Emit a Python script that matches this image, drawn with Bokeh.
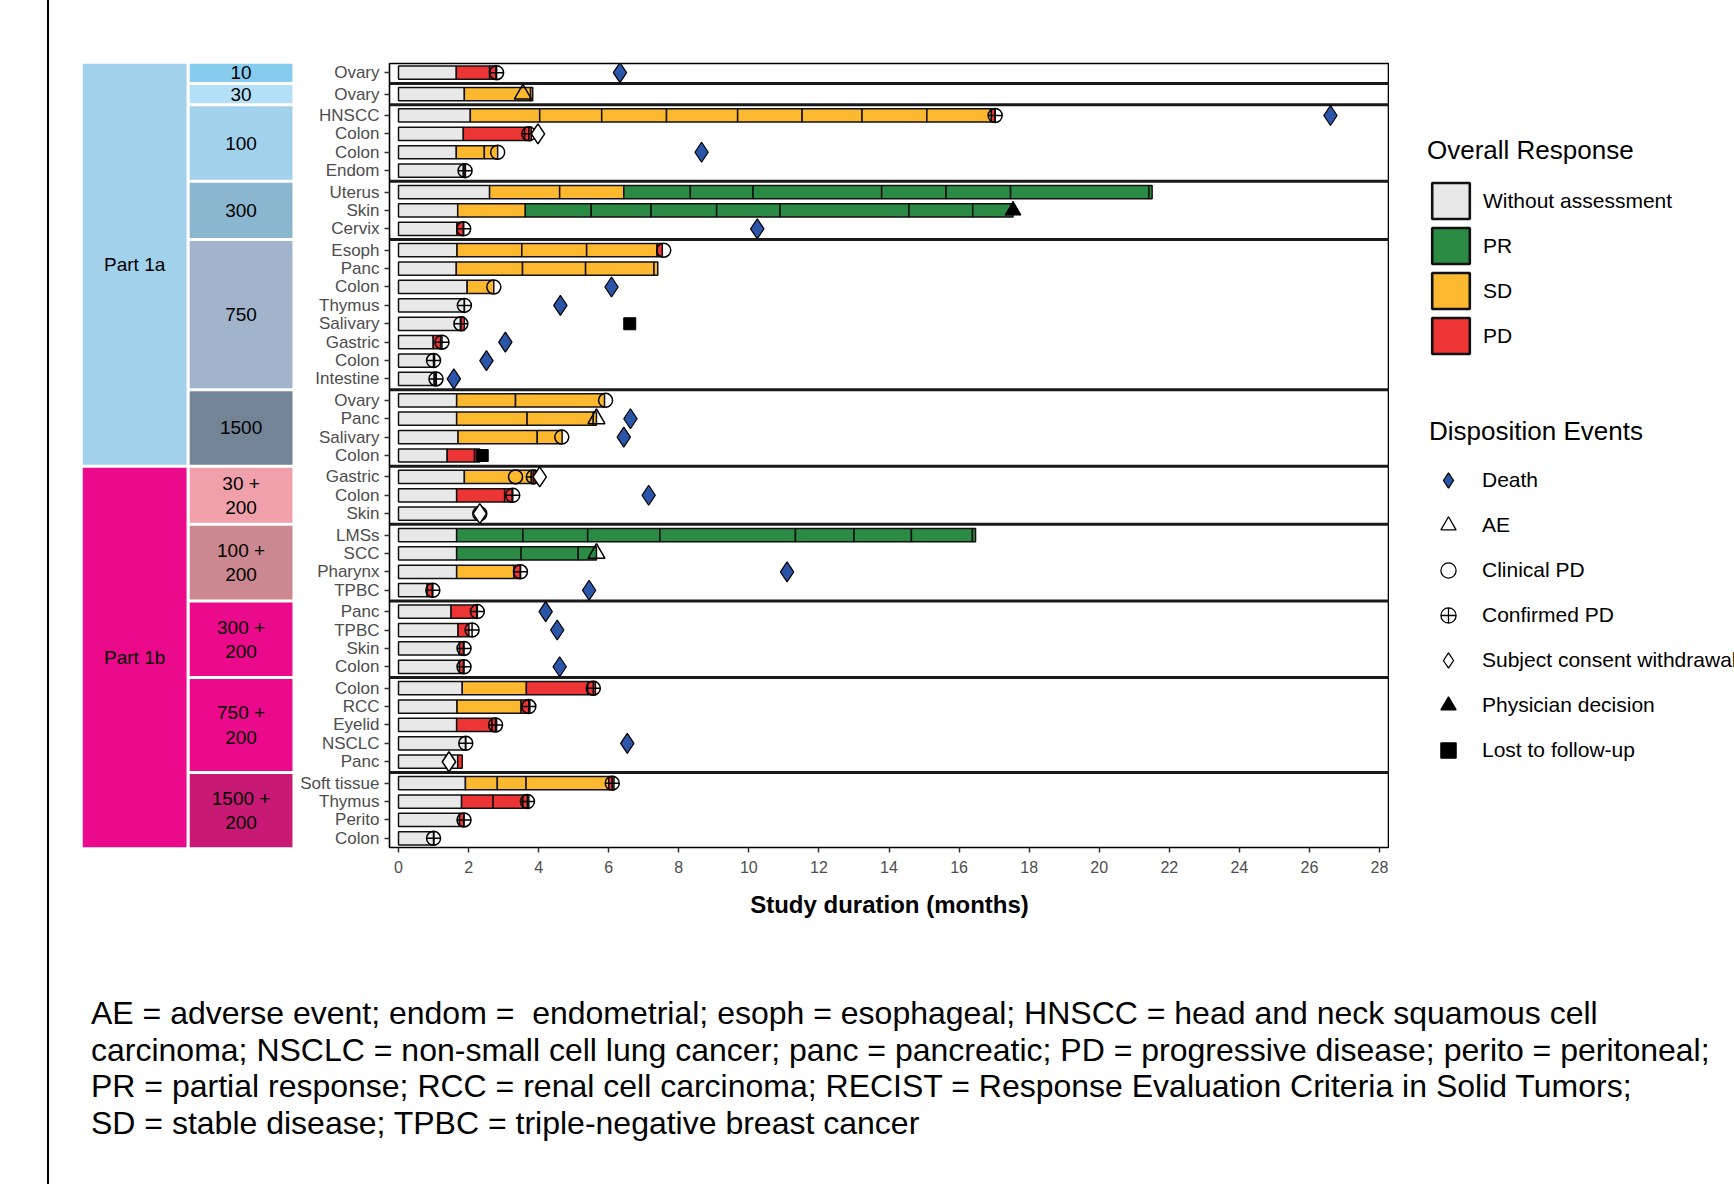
from bokeh.plotting import figure
from bokeh.models import Range1d, FixedTicker, Legend, LegendItem, Div
from bokeh.layouts import row, column
from bokeh.embed import file_html
from bokeh.resources import INLINE
from bokeh.core.properties import value

FONT = "Liberation Sans"

# ---------------- data ----------------
parts = ["Part 1a", "Part 1b"]
part_of_dose = [0, 0, 0, 0, 0, 0, 1, 1, 1, 1, 1]
dose_labels = ["10", "30", "100", "300", "750", "1500",
               "30 +\n200", "100 +\n200", "300 +\n200", "750 +\n200", "1500 +\n200"]
dose_sizes = [1, 1, 4, 3, 8, 4, 3, 4, 4, 5, 4]

tumors = ["Ovary", "Ovary", "HNSCC", "Colon", "Colon", "Endom", "Uterus", "Skin", "Cervix",
          "Esoph", "Panc", "Colon", "Thymus", "Salivary", "Gastric", "Colon", "Intestine",
          "Ovary", "Panc", "Salivary", "Colon", "Gastric", "Colon", "Skin",
          "LMSs", "SCC", "Pharynx", "TPBC", "Panc", "TPBC", "Skin", "Colon",
          "Colon", "RCC", "Eyelid", "NSCLC", "Panc", "Soft tissue", "Thymus", "Perito", "Colon"]

# end time (months) of each assessment segment, and its response
seg_ends = [
    [1.65, 2.6, 2.78],
    [1.88, 3.77, 3.83],
    [2.05, 4.03, 5.8, 7.65, 9.68, 11.52, 13.23, 15.08, 16.92, 17.03],
    [1.85, 3.6, 3.79],
    [1.65, 2.45, 2.83],
    [1.85, 1.91],
    [2.6, 4.6, 6.43, 8.33, 10.12, 13.79, 15.63, 17.47, 21.42, 21.51],
    [1.69, 3.62, 5.5, 7.21, 9.08, 10.89, 14.57, 16.39, 17.54],
    [1.67, 1.85],
    [1.67, 3.52, 5.37, 7.38, 7.53],
    [1.65, 3.54, 5.34, 7.29, 7.4],
    [1.96, 2.72],
    [1.88],
    [1.77, 1.88],
    [0.99, 1.2],
    [1.03],
    [1.02, 1.08],
    [1.66, 3.34, 5.88],
    [1.66, 3.67, 5.56, 5.65],
    [1.7, 3.96, 4.67],
    [1.39, 2.17, 2.32],
    [1.88, 3.79, 3.91],
    [1.66, 3.03, 3.24],
    [2.32],
    [1.66, 3.55, 5.4, 7.46, 11.33, 13.0, 14.64, 16.38, 16.47],
    [1.66, 3.5, 5.13, 5.65],
    [1.66, 3.29, 3.48],
    [0.82, 0.96],
    [1.5, 2.23],
    [1.7, 2.01],
    [1.74, 1.85],
    [1.74, 1.85],
    [1.82, 3.65, 5.4, 5.62],
    [1.67, 3.5, 3.75],
    [1.66, 2.67, 2.8],
    [1.91],
    [1.69, 1.82],
    [1.91, 2.82, 3.64, 6.0, 6.15],
    [1.8, 2.7, 3.55, 3.72],
    [1.74, 1.86],
    [1.01],
]
seg_resp = [
    ["W", "PD", "PD"],
    ["W", "SD", "SD"],
    ["W", "SD", "SD", "SD", "SD", "SD", "SD", "SD", "SD", "PD"],
    ["W", "PD", "PD"],
    ["W", "SD", "SD"],
    ["W", "PD"],
    ["W", "SD", "SD", "PR", "PR", "PR", "PR", "PR", "PR", "PR"],
    ["W", "SD", "PR", "PR", "PR", "PR", "PR", "PR", "PR"],
    ["W", "PD"],
    ["W", "SD", "SD", "SD", "PD"],
    ["W", "SD", "SD", "SD", "SD"],
    ["W", "SD"],
    ["W"],
    ["W", "PD"],
    ["W", "PD"],
    ["W"],
    ["W", "PD"],
    ["W", "SD", "SD"],
    ["W", "SD", "SD", "SD"],
    ["W", "SD", "SD"],
    ["W", "PD", "PD"],
    ["W", "SD", "PD"],
    ["W", "PD", "PD"],
    ["W"],
    ["W", "PR", "PR", "PR", "PR", "PR", "PR", "PR", "PR"],
    ["W", "PR", "PR", "PR"],
    ["W", "SD", "PD"],
    ["W", "PD"],
    ["W", "PD"],
    ["W", "PD"],
    ["W", "PD"],
    ["W", "PD"],
    ["W", "SD", "PD", "PD"],
    ["W", "SD", "PD"],
    ["W", "PD", "PD"],
    ["W"],
    ["W", "PD"],
    ["W", "SD", "SD", "SD", "PD"],
    ["W", "PD", "PD", "PD"],
    ["W", "PD"],
    ["W"],
]

death_rows = [0, 2, 4, 8, 11, 12, 14, 15, 16, 18, 19, 22, 26, 27, 28, 29, 31, 35]
death_t = [6.32, 26.6, 8.65, 10.24, 6.08, 4.62, 3.05, 2.51, 1.58, 6.62, 6.43, 7.14, 11.09, 5.44, 4.2, 4.53, 4.6, 6.53]
ae_rows = [1, 18, 25]
ae_t = [3.55, 5.65, 5.65]
clin_rows = [4, 9, 11, 17, 19, 21]
clin_t = [2.83, 7.57, 2.72, 5.91, 4.66, 3.34]
conf_rows = [0, 2, 3, 5, 8, 12, 13, 14, 15, 16, 21, 22, 23, 26, 27, 28, 29, 30, 31, 32, 33, 34, 35, 37, 38, 39, 40]
conf_t = [2.8, 17.03, 3.72, 1.9, 1.86, 1.88, 1.78, 1.24, 1.0, 1.07, 3.85, 3.26, 2.32, 3.48, 0.98, 2.25,
          2.1, 1.87, 1.87, 5.56, 3.72, 2.77, 1.92, 6.1, 3.68, 1.87, 1.0]
consent_rows = [3, 21, 23, 36]
consent_t = [3.98, 4.03, 2.32, 1.44]
phys_rows = [7]
phys_t = [17.54]
lost_rows = [13, 20]
lost_t = [6.6, 2.39]

resp_names = ["W", "PR", "SD", "PD"]
resp_labels = ["Without assessment", "PR", "SD", "PD"]
x_ticks = list(range(0, 29, 2))

foot_lines = [
    "AE = adverse event; endom =&nbsp; endometrial; esoph = esophageal; HNSCC = head and neck squamous cell",
    "carcinoma; NSCLC = non-small cell lung cancer; panc = pancreatic; PD = progressive disease; perito = peritoneal;",
    "PR = partial response; RCC = renal cell carcinoma; RECIST = Response Evaluation Criteria in Solid Tumors;",
    "SD = stable disease; TPBC = triple-negative breast cancer",
]

# ---------------- styles ----------------
resp_colors = {"W": "#e8e8e8", "PR": "#2b8a44", "SD": "#fcb92f", "PD": "#ee3535"}
part_colors = ["#a2d1ec", "#ec0a8c"]
dose_colors = ["#86ccef", "#b3e0f6", "#a2d1ec", "#8bb6cf", "#a2b4cc", "#738496",
               "#efa0aa", "#cc8890", "#ec0a8c", "#ec0a8c", "#c81a74"]
death_color = "#2b55a8"

# ---------------- row layout (integer units: row = 1000, panel gap = 163) ----------------
ROW = 1000
GAP = 163
ys = []
pos = 0
for n in dose_sizes:
    for _ in range(n):
        ys.append(-pos)
        pos += ROW
    pos += GAP
first_idx = []
acc = 0
for n in dose_sizes:
    first_idx.append(acc)
    acc += n
last_idx = [f + n - 1 for f, n in zip(first_idx, dose_sizes)]
g_top = [ys[f] + ROW // 2 for f in first_idx]
g_bot = [ys[l] - ROW // 2 for l in last_idx]
Y0, Y1 = g_bot[-1], g_top[0]
yr = Range1d(Y0, Y1)

X0, X1 = -0.257, 28.285
TOP, BOT = 63, 90
H = 63 + 784 + BOT
FRAME_BOTTOM = H - BOT

# ---------------- main plot ----------------
p = figure(width=1092, height=H, x_range=Range1d(X0, X1), y_range=yr,
           output_backend="svg", toolbar_location=None,
           min_border_left=92, min_border_right=0, min_border_top=TOP, min_border_bottom=BOT)
p.grid.visible = False
p.outline_line_color = "black"
p.outline_line_width = 1.6
p.background_fill_color = "white"

L, R, Yb, C = [], [], [], []
for i, (ends, resps) in enumerate(zip(seg_ends, seg_resp)):
    s = 0.0
    for e, r in zip(ends, resps):
        L.append(s)
        R.append(e)
        Yb.append(ys[i])
        C.append(resp_colors[r])
        s = e
p.hbar(y=Yb, left=L, right=R, height=0.72 * ROW, fill_color=C, line_color="#111111", line_width=1.5)

gap_y = [(g_bot[g] + g_top[g + 1]) / 2 for g in range(len(dose_sizes) - 1)]
p.segment(x0=X0, x1=X1, y0=gap_y, y1=gap_y, line_color="#1a1a1a", line_width=3)

def rows_y(rows):
    return [ys[r] for r in rows]

p.scatter(x=death_t, y=rows_y(death_rows), marker="diamond", size=20,
          fill_color=death_color, line_color="black", line_width=1.2)
p.scatter(x=ae_t, y=rows_y(ae_rows), marker="triangle", size=17,
          fill_color=None, line_color="black", line_width=1.5)
p.scatter(x=clin_t, y=rows_y(clin_rows), marker="circle", size=14,
          fill_color=None, line_color="black", line_width=1.5)
p.scatter(x=conf_t, y=rows_y(conf_rows), marker="circle_cross", size=14,
          fill_color=None, line_color="black", line_width=1.5)
p.scatter(x=consent_t, y=rows_y(consent_rows), marker="diamond", size=20,
          fill_color="white", line_color="black", line_width=1.5)
p.scatter(x=phys_t, y=rows_y(phys_rows), marker="triangle", size=16,
          fill_color="black", line_color="black")
p.scatter(x=lost_t, y=rows_y(lost_rows), marker="square", size=12,
          fill_color="black", line_color="black")

for ax in (p.xaxis, p.yaxis):
    ax.axis_line_color = None
    ax.major_tick_line_color = "#333333"
    ax.major_tick_line_width = 1.5
    ax.major_tick_in = 0
    ax.major_tick_out = 5
    ax.minor_tick_line_color = None
    ax.major_label_text_font = FONT
    ax.major_label_text_color = "#4d4d4d"
p.yaxis.ticker = FixedTicker(ticks=ys)
p.yaxis.major_label_overrides = {y: t for y, t in zip(ys, tumors)}
p.yaxis.major_label_text_font_size = "17px"
p.yaxis.major_label_standoff = 5
p.xaxis.ticker = FixedTicker(ticks=x_ticks)
p.xaxis.major_label_text_font_size = "16px"
p.xaxis.major_label_standoff = 8
p.xaxis.axis_label = "Study duration (months)"
p.xaxis.axis_label_text_font = FONT
p.xaxis.axis_label_text_font_style = "bold"
p.xaxis.axis_label_text_font_size = "24px"
p.xaxis.axis_label_text_color = "black"
p.xaxis.axis_label_standoff = 15

# ---------------- left blocks ----------------
lf = figure(width=248, height=H, x_range=Range1d(-0.317, 2.048), y_range=yr,
            output_backend="svg", toolbar_location=None,
            x_axis_location=None, y_axis_location=None,
            min_border_left=0, min_border_right=0, min_border_top=TOP, min_border_bottom=BOT)
lf.grid.visible = False
lf.outline_line_color = None

part_top, part_bot = [], []
for pi in range(len(parts)):
    gs = [g for g in range(len(dose_labels)) if part_of_dose[g] == pi]
    part_top.append(g_top[gs[0]])
    part_bot.append(g_bot[gs[-1]])
lf.quad(left=0, right=0.99, top=part_top, bottom=part_bot, fill_color=part_colors, line_color=None)
lf.quad(left=1.02, right=2.0, top=g_top, bottom=g_bot, fill_color=dose_colors, line_color=None)
lf.text(x=0.495, y=[(a + b) / 2 for a, b in zip(part_top, part_bot)], text=parts,
        text_align="center", text_baseline="middle", text_font=value(FONT),
        text_font_size="19px", text_color="black")
lf.text(x=1.51, y=[(a + b) / 2 for a, b in zip(g_top, g_bot)], text=dose_labels,
        text_align="center", text_baseline="middle", text_font=value(FONT),
        text_font_size="19px", text_color="black", text_line_height=1.15)

# ---------------- legends ----------------
lg = figure(width=345, height=H, x_range=Range1d(0, 1), y_range=Range1d(0, 1),
            output_backend="svg", toolbar_location=None,
            x_axis_location=None, y_axis_location=None,
            min_border_left=0, min_border_right=0, min_border_top=TOP, min_border_bottom=BOT)
lg.grid.visible = False
lg.outline_line_color = None

# legend-only renderers: one point each, placed outside the visible range
resp_r = []
for k in resp_names:
    resp_r.append(lg.quad(left=[-10], right=[-9], top=[-10], bottom=[-11], fill_color=resp_colors[k],
                          line_color="#111111", line_width=2.6))
ev_specs = [
    ("Death", "diamond", death_color),
    ("AE", "triangle", None),
    ("Clinical PD", "circle", None),
    ("Confirmed PD", "circle_cross", None),
    ("Subject consent withdrawal", "diamond", "white"),
    ("Physician decision", "triangle", "black"),
    ("Lost to follow-up", "square", "black"),
]
ev_r = []
for lab, mk, fc in ev_specs:
    ev_r.append(lg.scatter(x=[-10], y=[-10], marker=mk, fill_color=fc, line_color="black", line_width=1.3))

def style_legend(leg, gw, gh, standoff):
    leg.title_text_font = FONT
    leg.title_text_font_size = "26px"
    leg.title_text_font_style = "normal"
    leg.title_text_color = "black"
    leg.title_standoff = 12
    leg.label_text_font = FONT
    leg.label_text_font_size = "21px"
    leg.label_text_color = "black"
    leg.glyph_width = gw
    leg.glyph_height = gh
    leg.label_height = 40
    leg.spacing = 45 - gh
    leg.label_standoff = standoff
    leg.padding = 0
    leg.margin = 0
    leg.border_line_color = None
    leg.background_fill_alpha = 0

leg1 = Legend(items=[LegendItem(label=l, renderers=[r]) for l, r in zip(resp_labels, resp_r)],
              title="Overall Response", location=(38, FRAME_BOTTOM - 358))
style_legend(leg1, 47, 45, 9)
leg2 = Legend(items=[LegendItem(label=s[0], renderers=[r]) for s, r in zip(ev_specs, ev_r)],
              title="Disposition Events", location=(40, FRAME_BOTTOM - 771))
style_legend(leg2, 38, 42, 15)
lg.add_layout(leg1)
lg.add_layout(leg2)

# ---------------- footnote & frame line ----------------
foot_html = ('<div style="font-family: \'Liberation Sans\', Arial, sans-serif; font-size: 32px; '
             'line-height: 36.5px; color: #000; padding-left: 42px; padding-top: %dpx; '
             'white-space: nowrap;">' % (995 - H) + "<br>".join(foot_lines) + "</div>")
foot = Div(text=foot_html, width=1685, height=1184 - H, margin=0)
vline = Div(text="", width=49, height=1184, margin=0,
            styles={"border-right": "2px solid #000", "box-sizing": "border-box"})

layout = row(vline, column(row(lf, p, lg), foot))

open("out.html", "w").write(file_html(layout, INLINE))
